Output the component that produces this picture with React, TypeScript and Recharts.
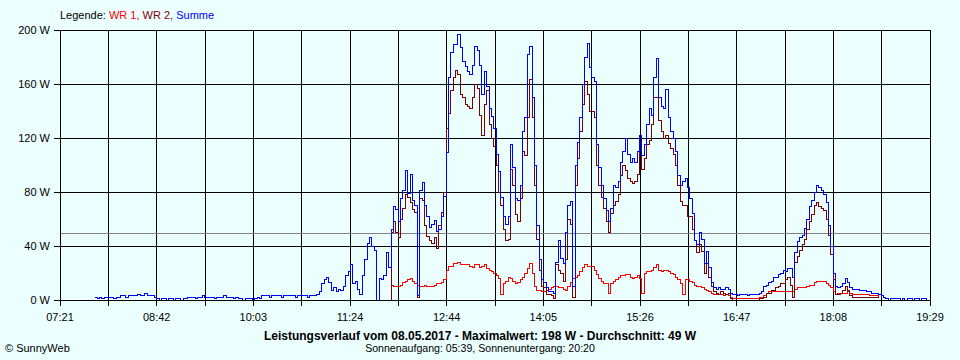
import React from 'react';
import { LineChart, Line, XAxis, YAxis, CartesianGrid, ReferenceLine } from 'recharts';

// Sampling: one value every 2 minutes starting 07:50
const START_MIN = 470;
const STEP_MIN = 2;

const X_DOMAIN_START = 441; // 07:21
const X_DOMAIN_END = 1169; // 19:29
const X_TICK_LABELS = ['07:21', '08:42', '10:03', '11:24', '12:44', '14:05', '15:26', '16:47', '18:08', '19:29'];
const Y_TICKS = [0, 40, 80, 120, 160, 200];
const AVERAGE = 49;

const SUMME = [
  2, 1, 2, 1, 2, 2,
  2, 2, 1, 2, 2, 3, 3, 2, 3, 3, 3, 3, 4, 3, 3, 5, 3, 3,
  3, 2,
  1, 0, 1, 1, 0, 1, 1, 0, 1, 1, 0, 1,
  1,
  2, 2, 2, 1, 2, 2, 3, 2, 2, 2, 2, 1, 2, 2, 2, 3, 2, 2, 2, 1, 2,
  1, 1, 0, 1, 1, 1, 0, 1, 2, 1,
  3, 3, 3, 2, 3, 3, 3, 3, 2, 3, 3, 3, 3, 3, 2, 3, 3,
  3, 3, 2, 3, 3, 3, 4,
  6, 12, 15, 17, 13,
  7, 9, 6, 8, 7, 10,
  18, 21, 26,
  12, 14, 8, 4,
  18, 30, 42, 46, 40, 37,
  0,
  16, 15, 18, 35, 24,
  52, 69, 67, 58, 75, 81, 96, 79, 93, 74, 70, 3, 81, 87, 70, 62, 54, 56, 59, 51, 52, 62, 77, 109,
  165, 183, 189, 189, 197, 187, 177, 173, 169, 167, 174, 188, 185, 174, 152, 169, 158, 142, 136, 127,
  108, 95, 76, 62, 56, 62, 115, 98, 75, 74, 85, 125, 135, 182, 188, 150, 100, 55, 30, 15, 13, 9, 6, 6, 5,
  28, 44, 31, 27, 50, 70, 73,
  10,
  100, 117, 135, 160, 180, 190, 172, 165, 162, 115, 98, 85, 75, 66, 58, 68, 85, 83, 88, 102, 110, 120, 108, 102,
  105, 102, 110, 122, 107, 115, 130, 142, 137, 165, 179, 150, 143, 142, 156, 135, 125, 120, 110, 92, 85, 88, 90, 83,
  75, 64, 44, 41, 50, 45, 27, 36, 24, 13, 9,
  8, 9, 8, 8, 9, 8,
  5,
  4, 4, 3, 4, 4, 4, 3, 4, 4, 4, 4,
  5, 6, 10, 11, 13, 14, 17, 17, 19, 20, 22, 21, 23, 23, 17,
  35, 43, 46, 48, 53, 60, 69, 74, 80, 85, 83, 81, 78, 72, 55, 40, 20,
  10, 9, 10, 12, 16, 13, 9, 8, 8, 8, 7, 7, 7, 6, 6, 5, 5, 5, 4, 3, 2,
  1, 0, 1, 1, 1, 1, 0, 1, 0, 1, 1, 0, 1, 1, 0, 1, 1, 0,
];

// Inverter series start at sample index 123 (11:56)
const WR_START_INDEX = 123;

const WR1 = [
  0,
  11, 10, 10, 10, 11, 13, 14, 15, 16, 14, 12, 11, 10, 10, 11, 10, 10, 10, 11, 12, 12, 13, 15, 22,
  25, 25, 27, 27, 28, 26, 26, 26, 26, 25, 24, 26, 26, 24, 25, 26, 23, 22, 21, 20, 18, 16, 4, 12, 14, 17, 16, 14, 12,
  13, 15, 17, 20, 23, 27, 20, 10, 7, 7, 6, 6, 7, 8, 9, 10,
  10, 9, 9, 8, 7, 10, 13,
  16,
  17, 18, 21, 24, 26, 25, 25, 25, 22, 19, 16, 14, 12, 12, 5, 12, 14, 15, 17, 18, 18, 19, 19, 17,
  16, 17, 18, 16, 5, 20, 21, 21, 22, 24, 26, 22, 21, 22, 22, 21, 20, 19, 17, 15, 12, 4, 15, 15,
  14, 13, 11, 10, 10, 9, 8, 7, 6, 5, 4,
  4, 4, 4, 3, 4, 3,
  2,
  1, 1, 1, 1, 1, 1, 1, 1, 1, 1, 1,
  2, 2, 3, 5, 6, 6, 6, 6, 6, 6, 6, 6, 6, 6, 6,
  8, 9, 9, 9, 9, 10, 11, 11, 13, 14, 14, 14, 14, 12, 11, 9, 6,
  4, 5, 5, 5, 5, 6, 5, 4, 4, 4, 4, 4, 4, 4, 3, 3, 3, 3, 3,
];

const WR2 = [
  0,
  50, 58, 50, 46, 60, 68, 78, 76, 72, 67, 65, 2, 75, 74, 55, 47, 44, 42, 46, 38, 55, 65, 80, 127,
  138, 155, 165, 170, 167, 152, 150, 145, 143, 142, 150, 160, 157, 137, 122, 145, 155, 130, 120, 114,
  100, 80, 70, 52, 44, 45, 97, 85, 63, 58, 75, 110, 107, 135, 163, 135, 85, 45, 22, 10, 9, 4, 4, 3, 1,
  26, 22, 20, 14, 30, 60, 56,
  2,
  85, 105, 125, 145, 162, 152, 140, 140, 135, 100, 85, 76, 68, 58, 50, 64, 70, 73, 78, 92, 100, 96, 90, 88,
  86, 88, 93, 117, 97, 105, 115, 118, 130, 150, 150, 133, 125, 120, 122, 116, 112, 108, 100, 85, 73, 70, 70, 62,
  62, 52, 44, 35, 41, 36, 20, 27, 17, 10, 6,
  5, 4, 6, 5, 4, 5,
  1,
  0, 0, 0, 0, 0, 0, 0, 0, 0, 0, 0,
  1, 1, 2, 5, 5, 7, 7, 9, 10, 12, 12, 15, 17, 11, 2,
  28, 32, 37, 41, 45, 52, 58, 63, 70, 72, 69, 68, 66, 60, 48, 34, 15,
  4, 4, 5, 7, 10, 7, 3, 2, 2, 2, 2, 2, 2, 2, 2, 2, 2, 2, 3,
];

const data = SUMME.map((s, i) => {
  const k = i - WR_START_INDEX;
  return {
    t: START_MIN + i * STEP_MIN,
    summe: s,
    wr1: k >= 0 && k < WR1.length ? WR1[k] : null,
    wr2: k >= 0 && k < WR2.length ? WR2[k] : null,
  };
});

const GRID_DIVS = 18;
const xTicks = Array.from({ length: GRID_DIVS + 1 }, (_, k) => X_DOMAIN_START + (k * (X_DOMAIN_END - X_DOMAIN_START)) / GRID_DIVS);

const FONT = '"Liberation Sans", Arial, sans-serif';
const BG = '#EBFFFF';

export default function App() {
  return (
    <div style={{ position: 'absolute', left: 0, top: 0, width: 960, height: 360, background: BG, fontFamily: FONT, overflow: 'hidden' }}>
      <style>{`.recharts-surface line, .recharts-surface path { shape-rendering: crispEdges; }`}</style>
      <div style={{ position: 'absolute', left: 60, top: 9, fontSize: 11, lineHeight: '13px', whiteSpace: 'pre' }}>
        <span style={{ color: '#000' }}>Legende: </span>
        <span style={{ color: '#FF0000' }}>WR 1, </span>
        <span style={{ color: '#800000' }}>WR 2, </span>
        <span style={{ color: '#0000FF' }}>Summe</span>
      </div>
      <LineChart width={960} height={360} data={data} margin={{ top: 30, right: 30, bottom: 0, left: 0 }}>
        <CartesianGrid stroke="#000" strokeWidth={1} />
        <XAxis
          dataKey="t"
          type="number"
          domain={[X_DOMAIN_START, X_DOMAIN_END]}
          ticks={xTicks}
          interval={0}
          height={60}
          tickSize={6}
          tickMargin={7}
          axisLine={{ stroke: '#000' }}
          tickLine={{ stroke: '#000' }}
          tick={{ fill: '#000', fontSize: 11, fontFamily: FONT }}
          tickFormatter={(v: number, i: number) => (i % 2 === 0 ? X_TICK_LABELS[i / 2] : '')}
          allowDataOverflow
        />
        <YAxis
          domain={[0, 200]}
          ticks={Y_TICKS}
          interval={0}
          width={60}
          tickSize={6}
          tickMargin={4}
          axisLine={{ stroke: '#000' }}
          tickLine={{ stroke: '#000' }}
          tick={{ fill: '#000', fontSize: 11, fontFamily: FONT }}
          tickFormatter={(v: number) => `${v} W`}
        />
        <ReferenceLine y={AVERAGE} stroke="#808080" strokeWidth={1} />
        <Line type="stepAfter" dataKey="wr1" stroke="#FF0000" strokeWidth={1} dot={false} isAnimationActive={false} connectNulls={false} />
        <Line type="stepAfter" dataKey="wr2" stroke="#800000" strokeWidth={1} dot={false} isAnimationActive={false} connectNulls={false} />
        <Line type="stepAfter" dataKey="summe" stroke="#0000FF" strokeWidth={1} dot={false} isAnimationActive={false} />
      </LineChart>
      <div style={{ position: 'absolute', left: 0, top: 330, width: 960, textAlign: 'center', fontSize: 12, fontWeight: 'bold', lineHeight: '13px' }}>
        Leistungsverlauf vom 08.05.2017 - Maximalwert: 198 W - Durchschnitt: 49 W
      </div>
      <div style={{ position: 'absolute', left: 0, top: 342, width: 960, textAlign: 'center', fontSize: 10.6, lineHeight: '13px' }}>
        Sonnenaufgang: 05:39, Sonnenuntergang: 20:20
      </div>
      <div style={{ position: 'absolute', left: 5, top: 342, fontSize: 11, lineHeight: '13px' }}>
        © SunnyWeb
      </div>
    </div>
  );
}
